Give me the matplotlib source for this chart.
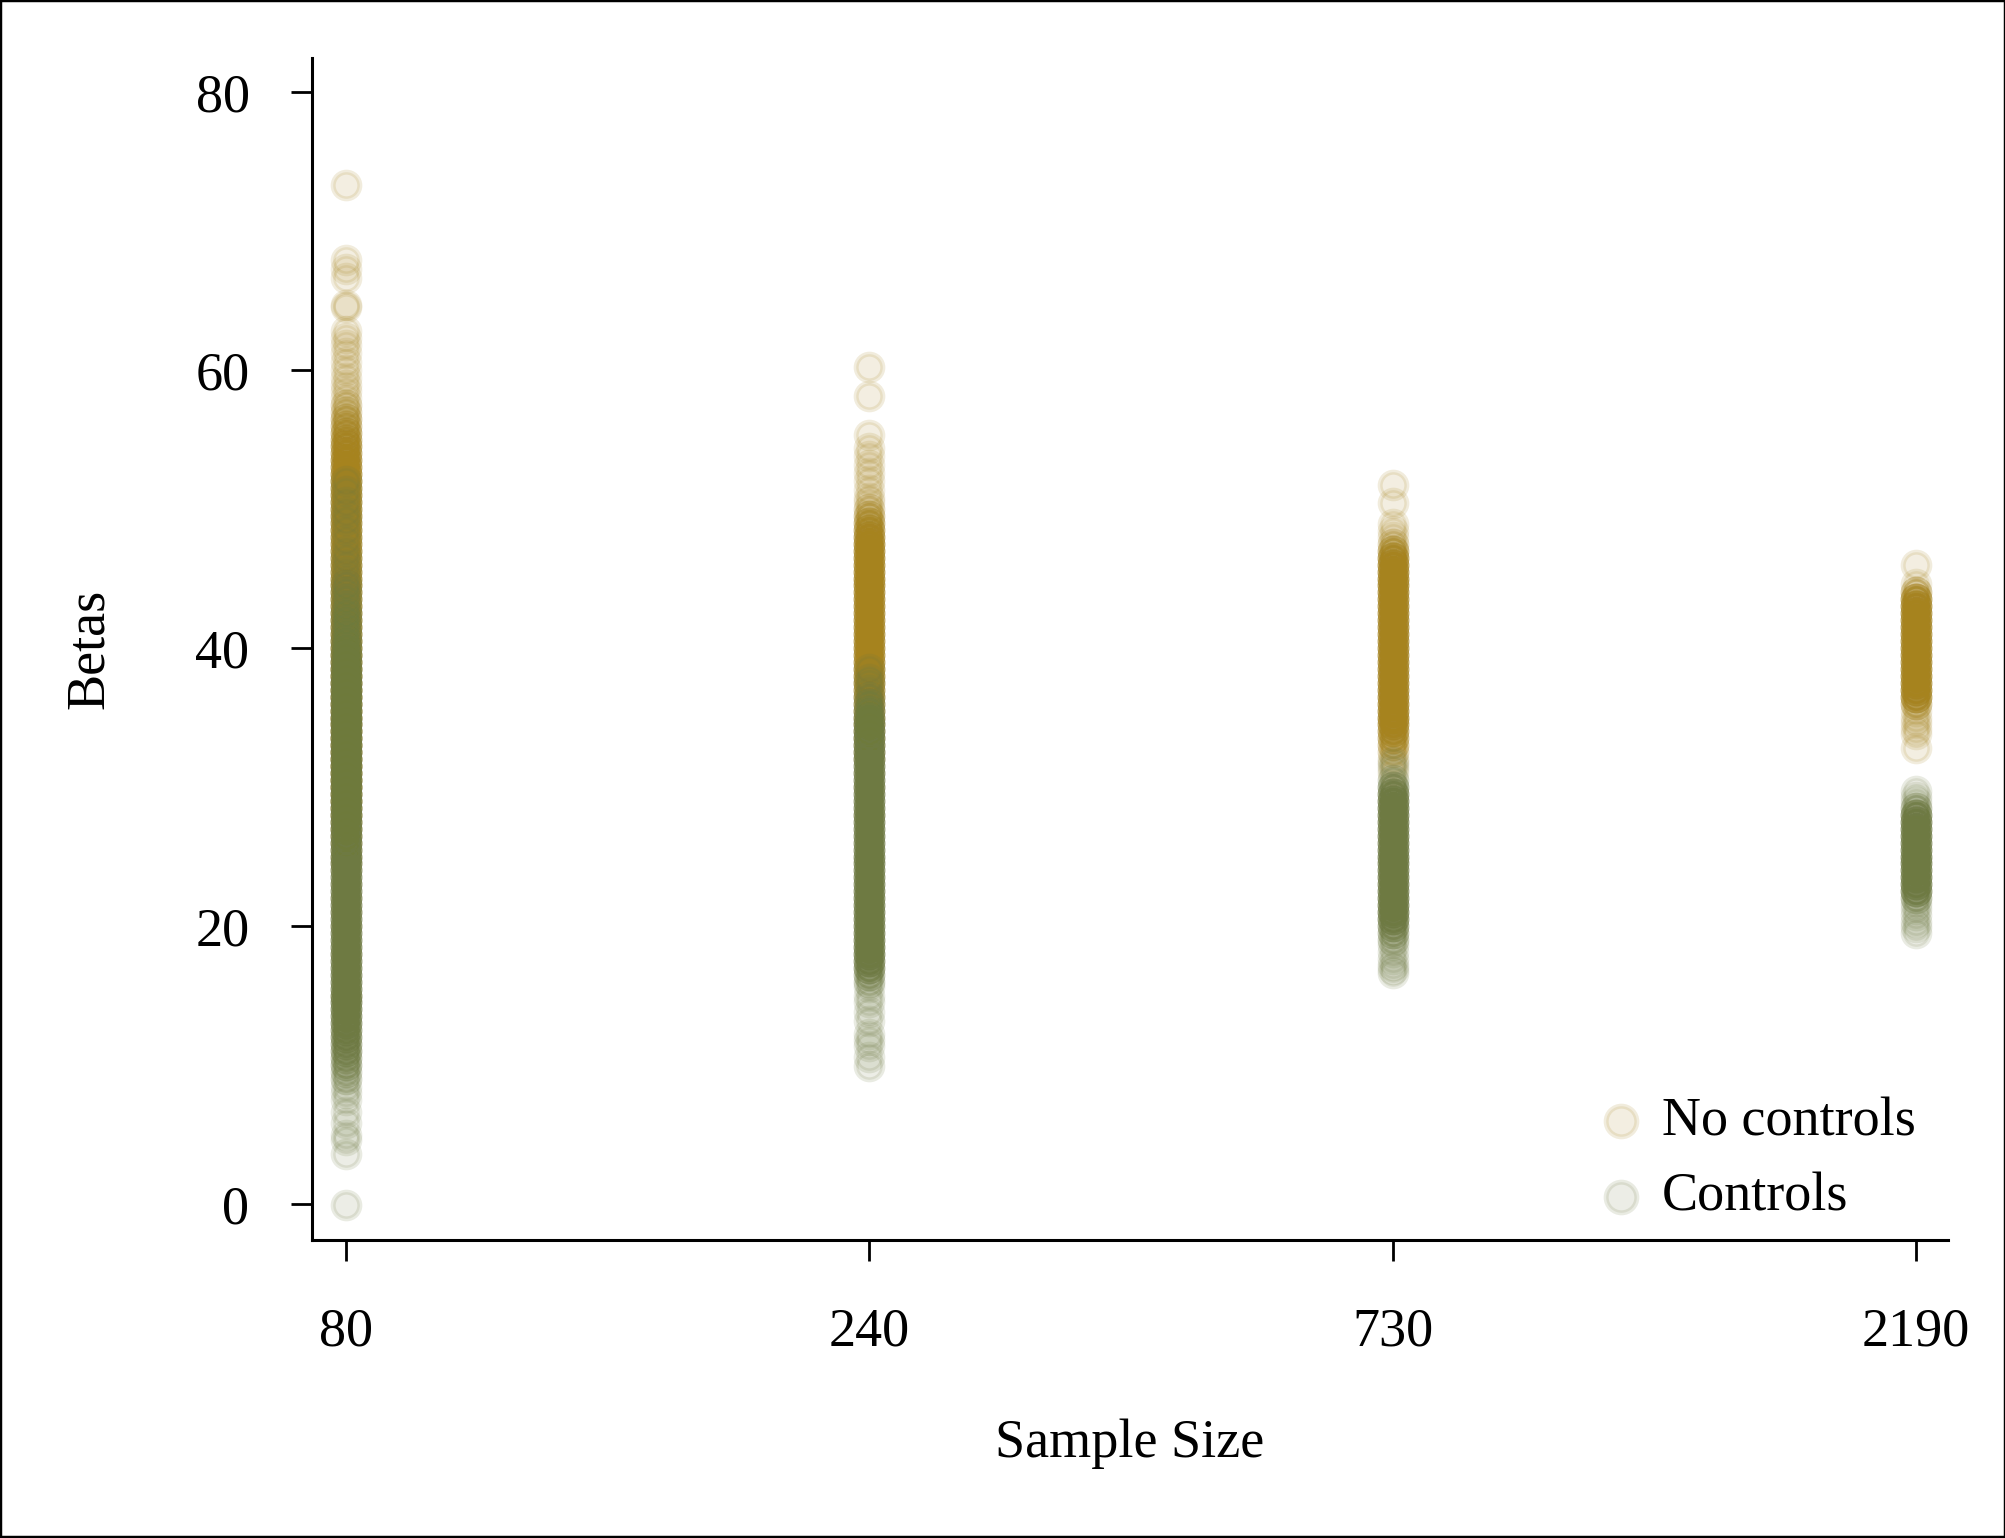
import numpy as np
import matplotlib.pyplot as plt
from matplotlib.patches import Rectangle

plt.rcParams['font.family'] = ['Liberation Serif', 'DejaVu Serif']

sample_sizes = ['80', '240', '730', '2190']

# betas: value and how many simulations land there
nc_80_vals = [73.3, 67.9, 67.3, 66.6, 64.7, 64.5, 62.8, 62.3, 61.8, 61.2, 60.6, 60.0, 59.4, 58.9,
              58.5, 58.0, 57.5, 57.0, 56.5, 56.0, 55.5, 55.0, 54.5, 54.0,
              53.5, 53.0, 52.5, 52.0, 51.5, 51.0, 50.5, 50.0, 49.5, 49.0,
              48.5, 48.0, 47.5, 47.0, 46.5, 46.0, 45.5, 45.0, 44.5, 44.0,
              43.5, 43.0, 42.5, 42.0, 41.5, 41.0, 40.5, 40.0, 39.5, 39.0,
              38.5, 38.0, 37.5, 37.0, 36.5, 36.0, 35.5, 35.0, 34.5, 34.0,
              33.5, 33.0, 32.5, 32.0, 31.5, 31.0, 30.5, 30.0, 29.5, 29.0,
              28.5, 28.0, 27.5, 27.0, 26.5, 26.0, 25.5, 25.0, 24.5, 24.0,
              23.0, 22.0, 21.0, 20.0, 18.0, 15.0]
nc_80_counts = [1, 1, 1, 1, 1, 1, 1, 1, 1, 1, 1, 1, 1, 1,
                1, 1, 2, 2, 3, 3, 4, 4, 5, 5,
                6, 6, 7, 7, 7, 7, 7, 7, 7, 7,
                7, 7, 7, 7, 7, 7, 7, 7, 7, 7,
                7, 7, 7, 7, 7, 7, 7, 7, 7, 7,
                7, 7, 7, 7, 7, 7, 7, 7, 7, 7,
                7, 7, 7, 7, 7, 7, 7, 7, 6, 6,
                5, 5, 4, 4, 3, 3, 2, 2, 2, 1,
                1, 1, 1, 1, 1, 1]

c_80_vals = [52.0, 51.3, 50.5, 49.8, 49.2, 48.5, 47.8, 47.0,
             46.5, 46.0, 45.5, 45.0, 44.5, 44.0, 43.5, 43.0, 42.5, 42.0,
             41.5, 41.0, 40.5, 40.0, 39.5, 39.0, 38.5, 38.0, 37.5, 37.0,
             36.5, 36.0, 35.5, 35.0, 34.5, 34.0, 33.5, 33.0, 32.5, 32.0,
             31.5, 31.0, 30.5, 30.0, 29.5, 29.0, 28.5, 28.0, 27.5, 27.0,
             26.5, 26.0, 25.5, 25.0, 24.5, 24.0, 23.5, 23.0, 22.5, 22.0,
             21.5, 21.0, 20.5, 20.0, 19.5, 19.0, 18.5, 18.0, 17.5, 17.0,
             16.5, 16.0, 15.5, 15.0, 14.5, 14.0,
             13.5, 13.0, 12.5, 12.0, 11.5, 11.0, 10.5, 10.0, 9.5, 9.0,
             8.4, 8.0, 7.5, 6.6, 5.8, 5.0, 4.6, 3.6, -0.1]
c_80_counts = [1, 1, 1, 1, 1, 1, 1, 1,
               1, 1, 1, 1, 2, 2, 2, 2, 3, 3,
               3, 3, 4, 4, 5, 5, 6, 6, 7, 7,
               7, 7, 7, 7, 7, 7, 7, 7, 7, 7,
               7, 7, 7, 7, 7, 7, 7, 7, 7, 7,
               7, 7, 7, 7, 7, 7, 7, 7, 7, 7,
               7, 7, 7, 7, 7, 7, 7, 7, 7, 7,
               7, 7, 7, 7, 7, 7,
               6, 6, 5, 5, 4, 4, 3, 3, 2, 2,
               1, 1, 1, 1, 1, 1, 1, 1, 1]

nc_240_vals = [60.2, 58.1, 55.3, 54.4, 53.8, 53.2, 52.6, 52.0, 51.4, 50.8,
               50.5, 50.0, 49.5, 49.0, 48.5, 48.0, 47.5, 47.0,
               46.5, 46.0, 45.5, 45.0, 44.5, 44.0, 43.5, 43.0, 42.5, 42.0,
               41.5, 41.0, 40.5, 40.0, 39.5, 39.0, 38.5, 38.0, 37.5,
               37.0, 36.5, 36.0, 35.5, 35.0, 34.5, 34.0, 33.5, 33.0, 32.5,
               32.0, 31.0, 30.0, 28.0]
nc_240_counts = [1, 1, 1, 1, 1, 1, 1, 1, 1, 1,
                 1, 2, 3, 4, 5, 6, 7, 7,
                 7, 7, 7, 7, 7, 7, 7, 7, 7, 7,
                 7, 7, 7, 7, 7, 7, 7, 7, 7,
                 6, 6, 5, 5, 4, 4, 3, 3, 2, 2,
                 2, 1, 1, 1]

c_240_vals = [38.5, 37.8,
              37.5, 37.0, 36.5, 36.0, 35.5, 35.0, 34.5, 34.0,
              33.5, 33.0, 32.5, 32.0, 31.5, 31.0, 30.5, 30.0, 29.5, 29.0,
              28.5, 28.0, 27.5, 27.0, 26.5, 26.0, 25.5, 25.0, 24.5, 24.0,
              23.5, 23.0, 22.5, 22.0, 21.5, 21.0, 20.5, 20.0, 19.5, 19.0,
              18.5, 18.0, 17.5, 17.0, 16.5, 16.0,
              15.6, 15.0, 14.5, 13.8, 13.2, 12.2, 11.8, 11.4, 10.6, 9.9]
c_240_counts = [1, 1,
                1, 1, 2, 3, 4, 5, 6, 7,
                7, 7, 7, 7, 7, 7, 7, 7, 7, 7,
                7, 7, 7, 7, 7, 7, 7, 7, 7, 7,
                7, 7, 7, 7, 7, 7, 7, 7, 7, 7,
                7, 7, 6, 5, 3, 2,
                1, 1, 1, 1, 1, 1, 1, 1, 1, 1]

nc_730_vals = [51.7, 50.4, 48.9, 48.4,
               48.0, 47.5, 47.0, 46.5, 46.0,
               45.5, 45.0, 44.5, 44.0, 43.5, 43.0, 42.5, 42.0, 41.5, 41.0,
               40.5, 40.0, 39.5, 39.0, 38.5, 38.0, 37.5, 37.0, 36.5, 36.0,
               35.5, 35.0,
               34.5, 34.0, 33.5, 33.0, 32.5, 32.0,
               31.6, 31.0]
nc_730_counts = [1, 1, 1, 1,
                 1, 2, 4, 6, 7,
                 7, 7, 7, 7, 7, 7, 7, 7, 7, 7,
                 7, 7, 7, 7, 7, 7, 7, 7, 7, 7,
                 7, 7,
                 6, 5, 4, 3, 2, 1,
                 1, 1]

c_730_vals = [31.8, 31.3,
              30.5, 30.0, 29.5, 29.0,
              28.5, 28.0, 27.5, 27.0, 26.5, 26.0, 25.5, 25.0,
              24.5, 24.0, 23.5, 23.0, 22.5, 22.0, 21.5, 21.0,
              20.5, 20.0, 19.5, 19.0,
              18.6, 18.1, 17.6, 17.2, 16.9, 16.6]
c_730_counts = [1, 1,
                2, 4, 6, 7,
                7, 7, 7, 7, 7, 7, 7, 7,
                7, 7, 7, 7, 7, 7, 7, 7,
                6, 4, 3, 2,
                1, 1, 1, 1, 1, 1]

nc_2190_vals = [46.0, 44.6,
                44.0, 43.5, 43.0,
                42.5, 42.0, 41.5, 41.0, 40.5, 40.0, 39.5, 39.0, 38.5, 38.0, 37.5, 37.0,
                36.5, 36.0,
                35.5, 35.0, 34.6, 34.2, 33.8, 32.8]
nc_2190_counts = [1, 1,
                  3, 6, 7,
                  7, 7, 7, 7, 7, 7, 7, 7, 7, 7, 7, 7,
                  6, 3,
                  1, 1, 1, 1, 1, 1]

c_2190_vals = [29.7, 29.3, 28.9,
               28.5, 28.0, 27.5,
               27.0, 26.5, 26.0, 25.5, 25.0, 24.5, 24.0, 23.5, 23.0,
               22.5, 22.0,
               21.6, 21.2, 20.8, 20.3, 19.9, 19.5]
c_2190_counts = [1, 1, 1,
                 3, 6, 7,
                 7, 7, 7, 7, 7, 7, 7, 7, 7,
                 6, 3,
                 1, 1, 1, 1, 1, 1]

no_controls = [(nc_80_vals, nc_80_counts), (nc_240_vals, nc_240_counts),
               (nc_730_vals, nc_730_counts), (nc_2190_vals, nc_2190_counts)]
controls = [(c_80_vals, c_80_counts), (c_240_vals, c_240_counts),
            (c_730_vals, c_730_counts), (c_2190_vals, c_2190_counts)]

gold = (166 / 255, 131 / 255, 30 / 255)
green = (110 / 255, 122 / 255, 66 / 255)


def stack(groups):
    xs, ys = [], []
    for i, (vals, counts) in enumerate(groups):
        y = np.repeat(vals, counts)
        xs.append(np.full(len(y), i))
        ys.append(y)
    return np.concatenate(xs), np.concatenate(ys)


fig = plt.figure(figsize=(10.03, 7.69), dpi=200)
ax = fig.add_axes([312 / 2006, 1 - 1240 / 1538, (1948 - 312) / 2006, (1240 - 58) / 1538])

marker = dict(s=92, linewidths=1.8)
x, y = stack(no_controls)
h1 = ax.scatter(x, y, facecolors=gold + (0.13,), edgecolors=gold + (0.15,), **marker)
x, y = stack(controls)
h2 = ax.scatter(x, y, facecolors=green + (0.13,), edgecolors=green + (0.15,), **marker)

ax.set_xlim(-0.065, 3.061)
ax.set_ylim(-2.59, 82.45)
ax.set_xticks(range(len(sample_sizes)))
ax.set_xticklabels(sample_sizes)
ax.set_yticks([0, 20, 40, 60, 80])

for side in ['top', 'right']:
    ax.spines[side].set_visible(False)
for side in ['left', 'bottom']:
    ax.spines[side].set_linewidth(1.1)
ax.tick_params(direction='out', length=7.5, width=1.0, labelsize=19.5)
ax.tick_params(axis='y', pad=15)
ax.tick_params(axis='x', pad=16.5)

fig.text(1130 / 2006, 1 - 1444 / 1538, 'Sample Size', ha='center', va='center', fontsize=19.5)
fig.text(90 / 2006, 1 - 649 / 1538, 'Betas', ha='center', va='center', rotation=90, fontsize=19.5)

ax.legend([h1, h2], ['No controls', 'Controls'], loc='center left', frameon=False,
          bbox_to_anchor=(1567 / 2006, 1 - 1160 / 1538), bbox_transform=fig.transFigure,
          fontsize=19.5, scatterpoints=1, handletextpad=0.15, labelspacing=0.46,
          borderaxespad=0, handlelength=1.2, markerscale=1.15)

fig.add_artist(Rectangle((0, 0), 1, 1, transform=fig.transFigure, fill=False,
                         edgecolor='black', linewidth=1.6))

fig.savefig('out.png', dpi=200)
